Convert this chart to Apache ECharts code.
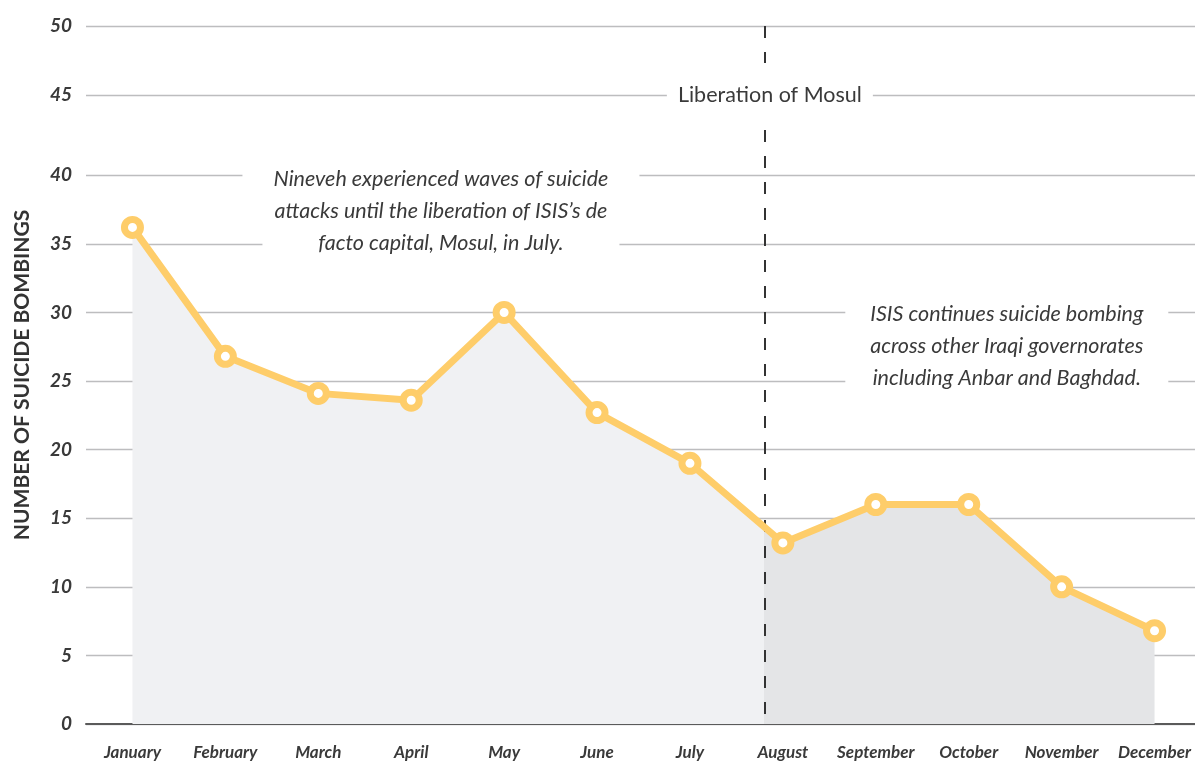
<!DOCTYPE html>
<html>
<head>
<meta charset="utf-8">
<script src="https://cdn.jsdelivr.net/npm/echarts@6/dist/echarts.min.js"></script>
<style>
  html, body { margin: 0; padding: 0; background: #ffffff; }
  #chart { width: 1195px; height: 762px; }
</style>
</head>
<body>
<div id="chart"></div>
<script>
// Monthly suicide bombings in Iraq
const months = ['January', 'February', 'March', 'April', 'May', 'June',
  'July', 'August', 'September', 'October', 'November', 'December'];
const bombings = [36.2, 26.8, 24.1, 23.6, 30, 22.7, 19, 13.2, 16, 16, 10, 6.8];

// Y gridlines: regular steps of 5 up to 40, upper two lines spaced wider for the headline label
const yTickValues = [0, 5, 10, 15, 20, 25, 30, 35, 40, 45.85, 50.88];
const yTickLabels = ['0', '5', '10', '15', '20', '25', '30', '35', '40', '45', '50'];
const yMax = 50.88;

// Position (in month index units) of the liberation of Mosul
const liberationX = 6.8;

const noteLeft = ['Nineveh experienced waves of suicide',
  'attacks until the liberation of ISIS\u2019s de',
  'facto capital, Mosul, in July.'];
const noteRight = ['ISIS continues suicide bombing',
  'across other Iraqi governorates',
  'including Anbar and Baghdad.'];
const eventLabel = 'Liberation of Mosul';

const points = bombings.map((v, i) => [i, v]);

const FONT = 'Lato';
const INK = '#3a3a3a';
const YELLOW = '#fecd6a';

function noteRich(widths) {
  const rich = {};
  widths.forEach((w, i) => {
    rich['l' + i] = {
      width: w, height: 32, lineHeight: 32, align: 'center',
      backgroundColor: '#ffffff', color: INK,
      fontFamily: FONT, fontStyle: 'italic', fontSize: 21.5
    };
  });
  return rich;
}
function noteText(lines) {
  return lines.map((t, i) => '{l' + i + '|' + t + '}').join('\n');
}

const chart = echarts.init(document.getElementById('chart'));
chart.setOption({
  animation: false,
  backgroundColor: '#ffffff',
  grid: { left: 86, width: 1115, top: 26, bottom: 38, containLabel: false, outerBoundsMode: 'none' },
  xAxis: [
    { type: 'value', min: -0.5, max: 11.5, show: false, position: 'top' },
    {
      type: 'category', data: months, position: 'bottom', boundaryGap: true,
      axisLine: { lineStyle: { color: '#5a5a5a', width: 2 } },
      axisTick: { alignWithLabel: true, length: 8, lineStyle: { color: '#5a5a5a', width: 2 } },
      axisLabel: {
        interval: 0,
        color: INK, fontFamily: FONT, fontStyle: 'italic', fontWeight: 'bold',
        fontSize: 17, margin: 20
      },
      splitLine: { show: false }
    }
  ],
  yAxis: {
    type: 'value', min: 0, max: yMax,
    name: 'NUMBER OF SUICIDE BOMBINGS', nameLocation: 'middle', nameGap: 53,
    nameTextStyle: { color: '#333333', fontFamily: FONT, fontWeight: 'bold', fontSize: 21 },
    axisLine: { show: false },
    axisTick: { show: false, customValues: yTickValues },
    axisLabel: {
      customValues: yTickValues,
      color: INK, fontFamily: FONT, fontStyle: 'italic', fontWeight: 'bold',
      fontSize: 19, margin: 14,
      formatter: function (v) {
        const i = yTickValues.findIndex(t => Math.abs(t - v) < 1e-6);
        return i >= 0 ? yTickLabels[i] : '';
      }
    },
    splitLine: { show: true, lineStyle: { color: '#bdbdbf', width: 1.3 } }
  },
  visualMap: {
    type: 'piecewise', show: false, dimension: 0, seriesIndex: 0,
    pieces: [
      { min: -1, max: liberationX, color: '#f0f1f3' },
      { min: liberationX, max: 12, color: '#e4e5e7' }
    ]
  },
  series: [
    {
      // shaded area under the line, split at the liberation date
      type: 'line', xAxisIndex: 0, data: points, showSymbol: false, silent: true,
      lineStyle: { width: 0, opacity: 0 },
      areaStyle: { opacity: 1 },
      z: 1,
      markLine: {
        silent: true, symbol: 'none', z: 3, animation: false,
        label: { show: false },
        lineStyle: { color: '#333333', width: 2, type: [12, 14] },
        data: [[{ coord: [liberationX, yMax] }, { coord: [liberationX, 0] }]]
      }
    },
    {
      type: 'line', xAxisIndex: 0, data: points, z: 4,
      symbol: 'circle', symbolSize: 16, showAllSymbol: true,
      lineStyle: { color: YELLOW, width: 7 },
      itemStyle: { color: '#ffffff', borderColor: YELLOW, borderWidth: 7 },
      emphasis: { disabled: true },
      markPoint: {
        silent: true, z: 10, animation: false,
        symbol: 'rect', symbolSize: [1, 1],
        itemStyle: { color: 'rgba(0,0,0,0)' },
        label: { show: true, position: 'inside' },
        data: [
          {
            coord: [3.32, 37.39],
            label: { formatter: noteText(noteLeft), rich: noteRich([397, 380, 357]) }
          },
          {
            coord: [9.41, 27.55],
            label: { formatter: noteText(noteRight), rich: noteRich([323, 323, 323]) }
          },
          {
            coord: [6.86, 45.85],
            label: {
              formatter: '{e|' + eventLabel + '}',
              rich: {
                e: {
                  width: 206, height: 64, lineHeight: 64, align: 'center',
                  backgroundColor: '#ffffff', color: INK,
                  fontFamily: FONT, fontSize: 21.5
                }
              }
            }
          }
        ]
      }
    }
  ]
});
</script>
</body>
</html>
